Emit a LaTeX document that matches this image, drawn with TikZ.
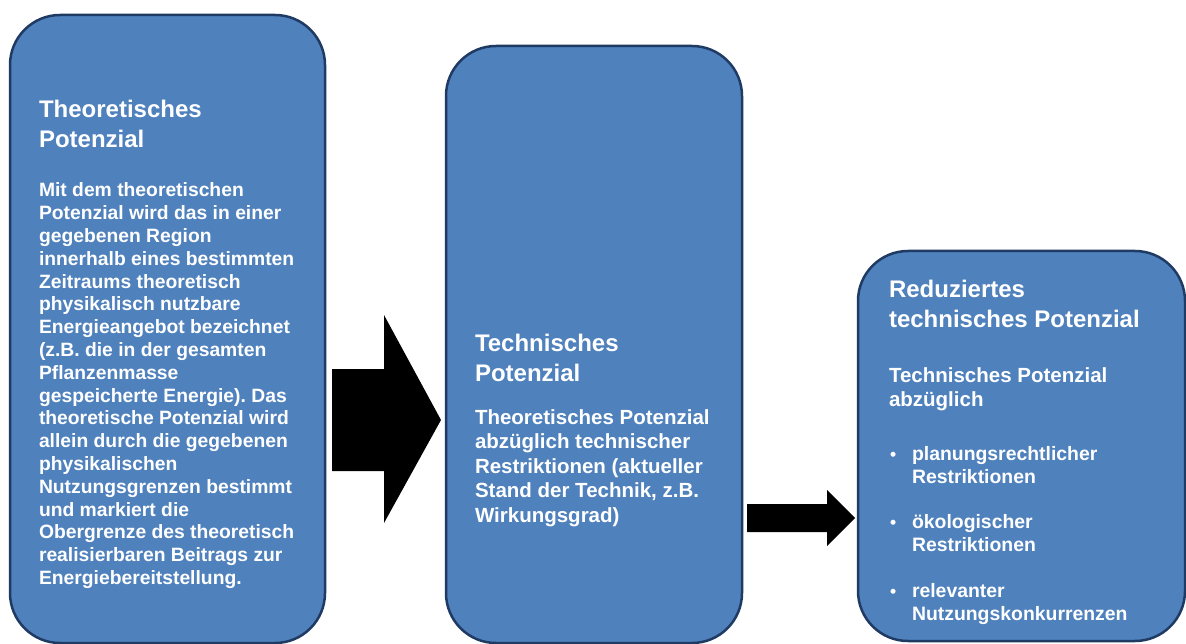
\documentclass[tikz,border=0pt]{standalone}
\usepackage{fontspec}
\setmainfont{Liberation Sans}
\frenchspacing
\definecolor{boxfill}{HTML}{4F81BD}
\definecolor{boxline}{HTML}{1F3B63}
\tikzset{
  panel/.style={draw=boxline, fill=boxfill, line width=2.5pt, rounded corners=50pt, inner sep=0pt, outer sep=0pt},
  txt/.style={anchor=base west, inner sep=0pt, outer sep=0pt, text=white, font=\bfseries},
  blockarrow/.style={fill=black, draw=none}
}
\newcommand{\ttl}{\fontsize{24}{29.5}\selectfont}
\newcommand{\bdy}{\fontsize{20.5}{24.6}\selectfont}
\newcommand{\bdysmall}{\fontsize{19.3}{22.8}\selectfont}
\newcommand{\bdybul}{\fontsize{19.4}{23}\selectfont}
\newcommand{\blines}[1]{\begin{tabular}[t]{@{}l@{}}#1\end{tabular}}
\newcommand{\bul}{\makebox[23pt][l]{\hspace{1pt}{\fontsize{17.5}{17.5}\selectfont\textbullet}}}
\begin{document}
\begin{tikzpicture}[x=1pt,y=-1pt]
\useasboundingbox (0,0) rectangle (1186,644);
\clip (0,0) rectangle (1186,644);
\fill[white] (0,0) rectangle (1186,644);
% panels
\node[panel, minimum width=315pt, minimum height=628pt] (b1) at (167.5,329) {};
\node[panel, minimum width=296pt, minimum height=597pt] (b2) at (594,344.5) {};
\node[panel, minimum width=327pt, minimum height=390pt] (b3) at (1021.5,446) {};
% arrows
\fill[blockarrow] (332,369) -- (384,369) -- (384,315) -- (441,420) -- (384,523) -- (384,471) -- (332,471) -- cycle;
\fill[blockarrow] (747,504) -- (827,504) -- (827,490) -- (855,518) -- (827,546) -- (827,532) -- (747,532) -- cycle;
% box 1 text
\node[txt] (t1) at (39,118) {\ttl\blines{Theoretisches\\Potenzial}};
\node[txt] (d1) at (39,197) {\bdysmall\blines{Mit dem theoretischen\\Potenzial wird das in einer\\gegebenen Region\\innerhalb eines bestimmten\\Zeitraums theoretisch\\physikalisch nutzbare\\Energieangebot bezeichnet\\(z.B. die in der gesamten\\Pflanzenmasse\\gespeicherte Energie). Das\\theoretische Potenzial wird\\allein durch die gegebenen\\physikalischen\\Nutzungsgrenzen bestimmt\\und markiert die\\Obergrenze des theoretisch\\realisierbaren Beitrags zur\\Energiebereitstellung.}};
% box 2 text
\node[txt] (t2) at (475,352) {\ttl\blines{Technisches\\Potenzial}};
\node[txt] (d2) at (475,424) {\bdy\blines{Theoretisches Potenzial\\abzüglich technischer\\Restriktionen (aktueller\\Stand der Technik, z.B.\\Wirkungsgrad)}};
% box 3 text
\node[txt] (t3) at (889,298) {\ttl\blines{Reduziertes\\technisches Potenzial}};
\node[txt] (d3) at (889,382) {\bdy\blines{Technisches Potenzial\\abzüglich}};
\node[txt] (p1) at (889,460) {\bdybul\blines{\bul planungsrechtlicher\\\hspace{23pt}Restriktionen}};
\node[txt] (p2) at (889,528) {\bdybul\blines{\bul ökologischer\\\hspace{23pt}Restriktionen}};
\node[txt] (p3) at (889,597) {\bdybul\blines{\bul relevanter\\\hspace{23pt}Nutzungskonkurrenzen}};
\end{tikzpicture}
\end{document}
